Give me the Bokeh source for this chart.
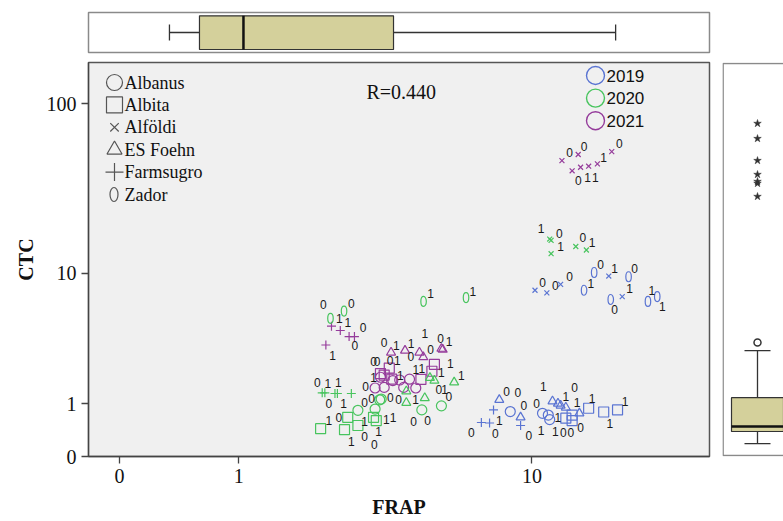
import numpy as np
from bokeh.plotting import figure
from bokeh.models import Range1d, FixedTicker, ColumnDataSource, Spacer
from bokeh.layouts import row, column
from bokeh.core.properties import value
from bokeh.embed import file_html
from bokeh.resources import INLINE

# ---------------- data ----------------
years = [2019, 2020, 2021]
year_colors = ["#5a74d2", "#48c45e", "#953c9b"]
cultivars = ["Albanus", "Albita", "Alföldi", "ES Foehn", "Farmsugro", "Zador"]
r_text = "R=0.440"

frap_albanus = [8.7, 10.7, 11.1, 11.2, 3.54, 3.58, 3.42, 3.0, 4.8, 5.5,
                3.42, 3.56, 3.66, 3.9, 4.22, 4.4, 4.6, 4.1]
ctc_albanus = [0.80, 0.76, 0.72, 0.62, 1.10, 1.12, 0.86, 0.83, 0.84, 0.94,
               1.45, 1.82, 1.47, 1.70, 1.47, 1.75, 1.45, 1.72]
year_albanus = [2019] * 4 + [2020] * 6 + [2021] * 8

frap_albita = [12.4, 12.9, 12.9, 14.3, 15.7, 17.1, 2.22, 2.77, 2.7, 3.0, 3.38, 3.45,
               3.8, 3.56, 3.66, 3.87, 5.24, 5.15, 4.77]
ctc_albita = [0.65, 0.72, 0.60, 0.88, 0.79, 0.84, 0.44, 0.67, 0.42, 0.50, 0.67, 0.60,
              2.18, 1.96, 1.90, 1.75, 2.34, 2.05, 1.74]
year_albita = [2019] * 6 + [2020] * 6 + [2021] * 7

frap_alfoldi = [10.2, 11.0, 12.0, 16.2, 17.6, 11.2, 11.3, 11.3, 13.2, 14.1,
                12.1, 13.4, 12.9, 13.6, 14.3, 15.1, 16.5]
ctc_alfoldi = [7.8, 7.5, 8.5, 9.6, 7.1, 16.2, 15.9, 13.2, 14.6, 13.9,
               47.0, 51.0, 41.0, 43.0, 43.6, 45.0, 53.0]
year_alfoldi = [2019] * 5 + [2020] * 5 + [2021] * 7

frap_foehn = [8.1, 9.3, 11.4, 11.8, 12.0, 12.4, 13.5, 5.08, 5.24, 6.0, 4.3, 4.3, 4.9,
              3.85, 4.26, 4.72, 4.85, 5.5, 5.55]
ctc_foehn = [1.10, 0.67, 1.06, 1.0, 0.95, 0.90, 0.76, 1.80, 1.70, 1.64, 1.35, 1.02, 1.15,
             2.9, 3.0, 2.9, 2.67, 3.1, 3.05]
year_foehn = [2019] * 7 + [2020] * 6 + [2021] * 6

frap_farmsugro = [7.8, 7.2, 7.6, 9.3, 2.25, 2.3, 2.5, 2.55, 2.85, 2.43, 2.61, 2.8, 2.92, 2.32]
ctc_farmsugro = [0.84, 0.56, 0.55, 0.50, 1.3, 1.3, 1.28, 1.28, 1.28, 4.5, 4.2, 3.8, 3.8, 3.3]
year_farmsugro = [2019] * 4 + [2020] * 5 + [2021] * 5

frap_zador = [14.8, 13.9, 18.3, 16.4, 20.6, 21.8, 4.86, 6.5, 2.41, 2.69]
ctc_zador = [10.1, 7.8, 9.5, 6.8, 6.6, 7.1, 6.6, 7.0, 5.1, 5.7]
year_zador = [2019] * 6 + [2020] * 4

# point labels (0 / 1)
lab_frap = [12.7, 13.9, 15.7, 17.3, 13.4, 14.2, 14.9,
            10.6, 11.9, 12.0, 13.8, 14.6,
            10.7, 11.6, 12.7, 16.8, 18.4, 15.4, 14.5, 19.0, 16.8, 21.1, 22.5,
            5.1, 6.8, 2.27, 2.85, 2.59, 2.77, 3.12, 2.93, 2.45,
            3.66, 4.0, 4.45, 4.9, 5.1, 5.47, 5.8, 4.44,
            3.38, 3.47, 3.82, 4.03, 3.38, 4.12, 4.6, 4.8, 5.5, 5.85,
            2.16, 2.36, 2.57, 3.18, 2.38, 2.68, 3.16, 3.33, 3.83, 4.07, 4.59, 5.40, 5.62, 5.79,
            2.38, 2.58, 3.16, 3.72, 3.91, 4.53, 5.0, 2.85, 3.16, 3.51, 3.40, 6.74, 6.30,
            8.49, 9.14, 10.75, 13.1, 12.4, 13.3, 14.6, 9.5, 10.3, 8.1, 11.8, 7.9, 9.8,
            10.6, 11.6, 12.2, 12.8, 13.6, 17.9, 16.3]
lab_ctc = [52.4, 56.7, 49.1, 59.3, 36.0, 37.5, 37.5,
           18.7, 17.5, 14.6, 16.5, 15.5,
           8.8, 8.4, 9.5, 10.75, 7.97, 11.3, 8.65, 10.7, 5.84, 7.77, 6.14,
           7.4, 7.7, 6.33, 6.37, 5.06, 4.75, 4.43, 3.26, 2.75,
           3.46, 3.27, 3.39, 4.02, 3.06, 3.67, 3.5, 2.71,
           2.46, 2.46, 2.5, 2.5, 1.8, 1.88, 2.11, 2.15, 2.0, 2.36,
           1.64, 1.59, 1.64, 1.50, 0.99, 0.99, 1.03, 1.13, 1.17, 1.10, 1.10, 1.39, 1.39, 1.19,
           0.60, 0.67, 0.59, 0.62, 0.67, 0.59, 0.60, 0.22, 0.30, 0.39, 0.17, 0.36, 1.88,
           1.35, 1.32, 1.50, 1.46, 1.19, 1.02, 1.13, 0.95, 0.99, 0.60, 0.67, 0.35, 0.32,
           0.40, 0.39, 0.37, 0.37, 0.46, 1.06, 0.55]
lab_text = ["0", "0", "1", "0", "0", "1", "1",
            "1", "0", "1", "0", "1",
            "0", "0", "0", "1", "1", "0", "1", "0", "0", "1", "1",
            "1", "1", "0", "0", "1", "1", "0", "0", "1",
            "0", "1", "1", "1", "0", "0", "1", "0",
            "0", "0", "0", "1", "1", "1", "1", "1", "1", "1",
            "0", "1", "1", "0", "0", "1", "0", "0", "0", "0", "1", "0", "1", "0",
            "1", "0", "1", "1", "1", "0", "0", "1", "0", "1", "0", "0", "1",
            "0", "0", "1", "0", "1", "1", "1", "0", "0", "1", "1", "0", "0",
            "1", "1", "0", "0", "0", "1", "1"]

# box plot statistics: low whisker, Q1, median, Q3, high whisker
frap_box = [0.337, 0.592, 1.056, 3.92, 16.9]
ctc_box = [0.185, 0.387, 0.48, 1.16, 3.0]
ctc_outliers = [3.44]
ctc_extremes = [77, 63, 47, 39, 35.5, 34.6, 29]


def tf(a):
    return np.log10(np.asarray(a, dtype=float) + 1.0)


# ---------------- styling ----------------
SERIF = "Liberation Serif"
SANS = "Liberation Sans"
X_MIN, X_MAX = -0.0783, 1.4899
Y_MIN, Y_MAX = 0.0, 2.2386
BOX_FILL = "#d4d09b"
DARK = "#333333"

cmap = dict(zip(years, year_colors))

# ---------------- main scatter ----------------
p = figure(width=715, height=464, output_backend="svg", toolbar_location=None,
           x_range=Range1d(X_MIN, X_MAX), y_range=Range1d(Y_MIN, Y_MAX),
           min_border_left=88, min_border_right=6, min_border_top=5, min_border_bottom=65)
p.background_fill_color = "#f0f0f0"
p.border_fill_color = "white"
p.outline_line_color = "#555555"
p.outline_line_width = 1.5
p.grid.visible = False

xt_vals = [0, 1, 10]
yt_vals = [0, 1, 10, 100]
xt = [float(v) for v in tf(xt_vals)]
yt = [float(v) for v in tf(yt_vals)]
p.xaxis.ticker = FixedTicker(ticks=xt)
p.yaxis.ticker = FixedTicker(ticks=yt)
p.xaxis.major_label_overrides = {t: str(v) for t, v in zip(xt, xt_vals)}
p.yaxis.major_label_overrides = {t: str(v) for t, v in zip(yt, yt_vals)}
for ax in (p.xaxis, p.yaxis):
    ax.axis_line_color = "#444444"
    ax.axis_line_width = 1.3
    ax.major_tick_line_color = "#444444"
    ax.major_tick_line_width = 1.3
    ax.major_tick_out = 7
    ax.major_tick_in = 0
    ax.minor_tick_line_color = None
    ax.major_label_text_font = SERIF
    ax.major_label_text_font_size = "20px"
    ax.major_label_text_color = "#111111"
    ax.axis_label_text_font = SERIF
    ax.axis_label_text_font_size = "20px"
    ax.axis_label_text_font_style = "bold"
    ax.axis_label_text_color = "#111111"
p.xaxis.axis_label = "FRAP"
p.yaxis.axis_label = "CTC"
p.xaxis.major_label_standoff = 5
p.xaxis.axis_label_standoff = 10
p.yaxis.major_label_standoff = 5
p.yaxis.axis_label_standoff = 7

series = [
    ("circle", frap_albanus, ctc_albanus, year_albanus, 10),
    ("square", frap_albita, ctc_albita, year_albita, 10),
    ("x", frap_alfoldi, ctc_alfoldi, year_alfoldi, 7),
    ("triangle", frap_foehn, ctc_foehn, year_foehn, 9),
    ("cross", frap_farmsugro, ctc_farmsugro, year_farmsugro, 9),
]
for marker, fx, cy, yr, sz in series:
    src = ColumnDataSource(dict(x=tf(fx), y=tf(cy), c=[cmap[v] for v in yr]))
    p.scatter("x", "y", source=src, marker=marker, size=sz, fill_alpha=0,
              line_color="c", line_width=1.2)

zsrc = ColumnDataSource(dict(x=tf(frap_zador), y=tf(ctc_zador), c=[cmap[v] for v in year_zador]))
p.ellipse("x", "y", source=zsrc, width=5.5, height=10, width_units="screen",
          height_units="screen", fill_alpha=0, line_color="c", line_width=1.2)

lsrc = ColumnDataSource(dict(x=tf(lab_frap), y=tf(lab_ctc), t=lab_text))
p.text("x", "y", text="t", source=lsrc, text_font=value(SANS), text_font_size="12px",
       text_color="#1a1a1a", text_align="center", text_baseline="middle")

# legends / annotation in pixel space of the frame
p.extra_x_ranges = {"px": Range1d(88, 709)}
p.extra_y_ranges = {"px": Range1d(456, 62)}

leg_markers = ["circle", "square", "x", "triangle", "cross"]
leg_sizes = [16, 16, 12, 15, 18]
leg_y = [82 + 22.4 * i for i in range(len(cultivars))]
p.scatter(x=[114] * 5, y=leg_y[:5], marker=leg_markers, size=leg_sizes, fill_alpha=0,
          line_color="#555555", line_width=1.2, x_range_name="px", y_range_name="px")
p.ellipse(x=[113.5], y=[leg_y[5]], width=8, height=14, width_units="screen",
          height_units="screen", fill_alpha=0, line_color="#555555", line_width=1.2,
          x_range_name="px", y_range_name="px")
p.text(x=[124] * 6, y=leg_y, text=cultivars, text_font=value(SERIF), text_font_size="18px",
       text_color="#111111", text_baseline="middle", x_range_name="px", y_range_name="px")

yl_y = [75 + 22.6 * i for i in range(3)]
p.scatter(x=[595] * 3, y=yl_y, marker="circle", size=18, fill_alpha=0,
          line_color=year_colors, line_width=1.4, x_range_name="px", y_range_name="px")
p.text(x=[606] * 3, y=yl_y, text=[str(y) for y in years], text_font=value(SANS),
       text_font_size="17px", text_color="#111111", text_baseline="middle",
       x_range_name="px", y_range_name="px")

p.text(x=[366], y=[91], text=[r_text], text_font=value(SERIF), text_font_size="20px",
       text_color="#111111", text_baseline="middle", x_range_name="px", y_range_name="px")

# ---------------- top box plot (FRAP) ----------------
top = figure(width=715, height=57, output_backend="svg", toolbar_location=None,
             x_range=p.x_range, y_range=Range1d(40, 0),
             x_axis_location=None, y_axis_location=None,
             min_border_left=88, min_border_right=6, min_border_top=12, min_border_bottom=5)
top.grid.visible = False
top.outline_line_color = "#8a8a8a"
top.outline_line_width = 1.5
fb = tf(frap_box)
top.segment(x0=[fb[0], fb[3]], y0=[20, 20], x1=[fb[1], fb[4]], y1=[20, 20],
            line_color=DARK, line_width=1.3)
top.segment(x0=[fb[0], fb[4]], y0=[12, 12], x1=[fb[0], fb[4]], y1=[28, 28],
            line_color=DARK, line_width=1.3)
top.quad(left=[fb[1]], right=[fb[3]], top=[3.3], bottom=[37], fill_color=BOX_FILL,
         line_color=DARK, line_width=1.2)
top.segment(x0=[fb[2]], y0=[3.3], x1=[fb[2]], y1=[37], line_color="#111111", line_width=2.5)

# ---------------- right box plot (CTC) ----------------
rt = figure(width=68, height=464, output_backend="svg", toolbar_location=None,
            x_range=Range1d(0, 61), y_range=p.y_range,
            x_axis_location=None, y_axis_location=None,
            min_border_left=7, min_border_right=0, min_border_top=5, min_border_bottom=65)
rt.grid.visible = False
rt.outline_line_color = None
rt.quad(left=[0.6], right=[200], bottom=[0.005], top=[Y_MAX - 0.005], fill_alpha=0,
        line_color="#8a8a8a", line_width=1.5)
cb = tf(ctc_box)
rt.segment(x0=[35, 35], y0=[cb[0], cb[3]], x1=[35, 35], y1=[cb[1], cb[4]],
           line_color=DARK, line_width=1.3)
rt.segment(x0=[22, 22], y0=[cb[0], cb[4]], x1=[48, 48], y1=[cb[0], cb[4]],
           line_color=DARK, line_width=1.3)
rt.quad(left=[9], right=[61], bottom=[cb[1]], top=[cb[3]], fill_color=BOX_FILL,
        line_color=DARK, line_width=1.2)
rt.segment(x0=[9], y0=[cb[2]], x1=[61], y1=[cb[2]], line_color="#111111", line_width=2.5)
rt.scatter(x=[35] * len(ctc_outliers), y=tf(ctc_outliers), marker="circle", size=7,
           fill_alpha=0, line_color=DARK, line_width=1.5)
rt.scatter(x=[35] * len(ctc_extremes), y=tf(ctc_extremes), marker="star", size=8,
           fill_color=DARK, line_color=DARK, line_width=0.5)

layout = row(column(top, p), column(Spacer(width=68, height=57), rt))

open("out.html", "w").write(file_html(layout, INLINE))
